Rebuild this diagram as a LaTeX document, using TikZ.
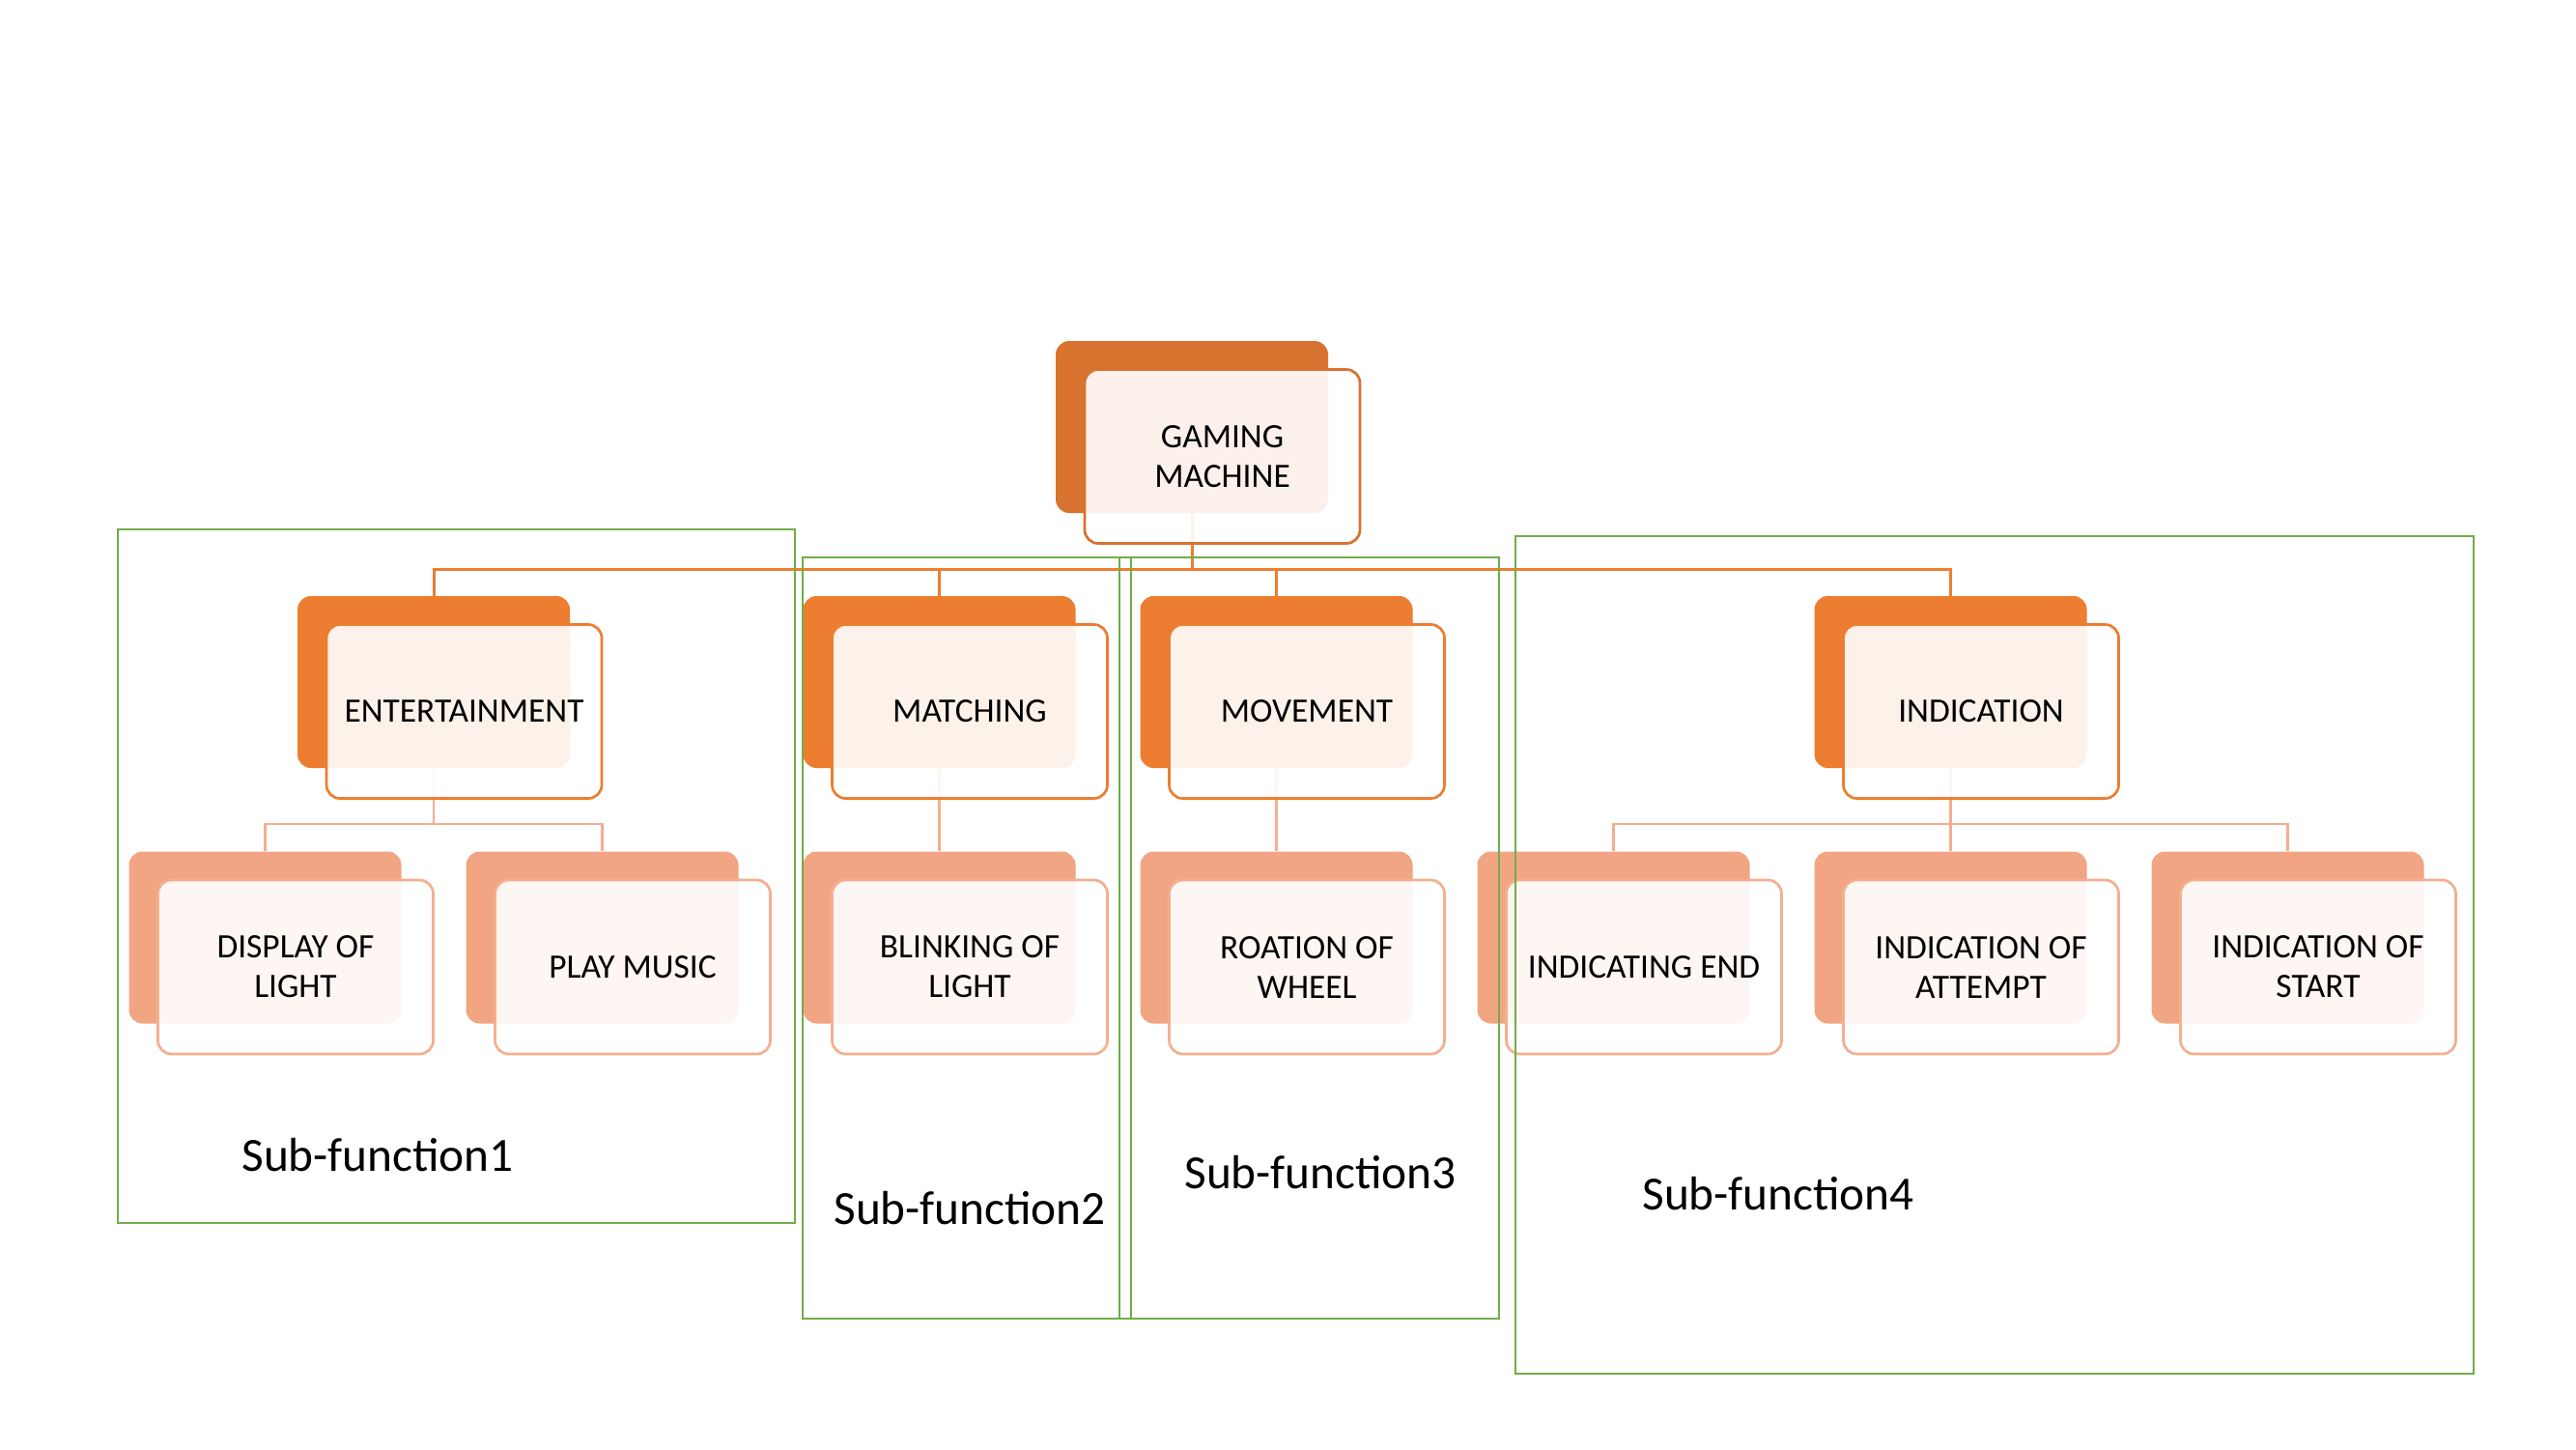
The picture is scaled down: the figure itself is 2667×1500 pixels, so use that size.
\documentclass[tikz,border=0pt]{standalone}
\usepackage{fontspec}
\setmainfont{Carlito}
\definecolor{lvA}{HTML}{D8722F}
\definecolor{lvB}{HTML}{ED7D31}
\definecolor{lvC}{HTML}{F1A583}
\definecolor{lvCline}{HTML}{F4AF8F}
\definecolor{grn}{HTML}{70AD47}
\begin{document}
\begin{tikzpicture}[x=0.5pt,y=-0.5pt,
  backbox/.style={rectangle, rounded corners=7pt, minimum width=141pt, minimum height=89pt, inner sep=0pt, draw=none},
  frontbox/.style={rectangle, rounded corners=7pt, minimum width=142.5pt, minimum height=90pt, inner sep=0pt,
     fill=white, fill opacity=0.9, text opacity=1, line width=1.35pt, align=center,
     font=\fontsize{17.7}{20.5}\selectfont},
  connA/.style={draw=lvB, line width=1.5pt},
  connB/.style={draw=lvCline, line width=1.35pt},
  grpbox/.style={draw=grn, line width=1.2pt},
  grplabel/.style={anchor=base west, inner sep=0pt, font=\fontsize{24.65}{29}\selectfont}
]
\useasboundingbox (0,0) rectangle (2667,1500);
\fill[white] (0,0) rectangle (2667,1500);

% back boxes
\node[backbox, fill=lvA] (gmB) at (1234,442) {};
\node[backbox, fill=lvB] (entB) at (449,706) {};
\node[backbox, fill=lvB] (matB) at (972.5,706) {};
\node[backbox, fill=lvB] (movB) at (1321.5,706) {};
\node[backbox, fill=lvB] (indB) at (2019.5,706) {};
\node[backbox, fill=lvC] (dspB) at (274.5,970.5) {};
\node[backbox, fill=lvC] (musB) at (623.5,970.5) {};
\node[backbox, fill=lvC] (blkB) at (972.5,970.5) {};
\node[backbox, fill=lvC] (rotB) at (1321.5,970.5) {};
\node[backbox, fill=lvC] (endB) at (1670.5,970.5) {};
\node[backbox, fill=lvC] (attB) at (2019.5,970.5) {};
\node[backbox, fill=lvC] (staB) at (2368.5,970.5) {};

% bus coordinates
\coordinate (busA) at (0,589);
\coordinate (busB) at (0,853);

% connectors level 1 -> 2
\draw[connA] (gmB.south) -- (gmB.south |- busA);
\draw[connA] (entB.north) -- (entB.north |- busA) -- (indB.north |- busA) -- (indB.north);
\draw[connA] (matB.north) -- (matB.north |- busA);
\draw[connA] (movB.north) -- (movB.north |- busA);

% connectors level 2 -> 3
\draw[connB] (entB.south) -- (entB.south |- busB);
\draw[connB] (dspB.north) -- (dspB.north |- busB) -- (musB.north |- busB) -- (musB.north);
\draw[connB] (matB.south) -- (blkB.north);
\draw[connB] (movB.south) -- (rotB.north);
\draw[connB] (indB.south) -- (indB.south |- busB);
\draw[connB] (endB.north) -- (endB.north |- busB) -- (staB.north |- busB) -- (staB.north);
\draw[connB] (attB.north) -- (attB.north |- busB);

% front boxes
\node[frontbox, draw=lvA] (gm) at ([shift={(31.5,30.5)}]gmB.center) {GAMING\\MACHINE};
\node[frontbox, draw=lvB] (ent) at ([shift={(31.5,30.5)}]entB.center) {ENTERTAINMENT};
\node[frontbox, draw=lvB] (mat) at ([shift={(31.5,30.5)}]matB.center) {MATCHING};
\node[frontbox, draw=lvB] (mov) at ([shift={(31.5,30.5)}]movB.center) {MOVEMENT};
\node[frontbox, draw=lvB] (ind) at ([shift={(31.5,30.5)}]indB.center) {INDICATION};
\node[frontbox, draw=lvCline] (dsp) at ([shift={(31.5,30.5)}]dspB.center) {DISPLAY OF\\LIGHT};
\node[frontbox, draw=lvCline] (mus) at ([shift={(31.5,30.5)}]musB.center) {PLAY MUSIC};
\node[frontbox, draw=lvCline] (blk) at ([shift={(31.5,30.5)}]blkB.center) {BLINKING OF\\LIGHT};
\node[frontbox, draw=lvCline] (rot) at ([shift={(31.5,30.5)}]rotB.center) {ROATION OF\\WHEEL};
\node[frontbox, draw=lvCline] (end) at ([shift={(31.5,30.5)}]endB.center) {INDICATING END};
\node[frontbox, draw=lvCline] (att) at ([shift={(31.5,30.5)}]attB.center) {INDICATION OF\\ATTEMPT};
\node[frontbox, draw=lvCline] (sta) at ([shift={(31.5,30.5)}]staB.center) {INDICATION OF\\START};

% group frames
\draw[grpbox] (122,548) rectangle (823,1266);
\draw[grpbox] (831,577) rectangle (1171,1365);
\draw[grpbox] (1159,577) rectangle (1552,1365);
\draw[grpbox] (1569,555) rectangle (2561,1422);

% group labels
\node[grplabel] (lab1) at (250,1212) {Sub-function1};
\node[grplabel] (lab2) at (863,1267) {Sub-function2};
\node[grplabel] (lab3) at (1226,1230) {Sub-function3};
\node[grplabel] (lab4) at (1700,1252) {Sub-function4};
\end{tikzpicture}
\end{document}
